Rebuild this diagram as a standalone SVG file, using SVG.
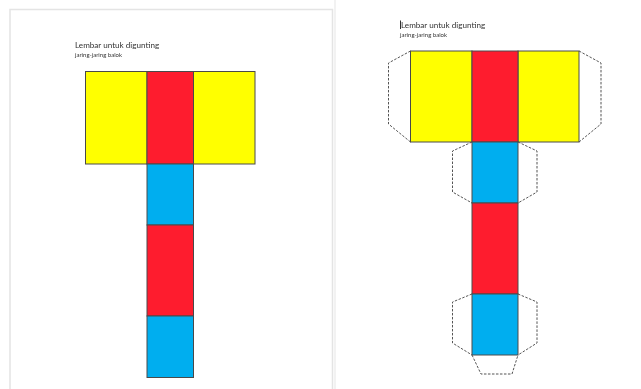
<svg xmlns="http://www.w3.org/2000/svg" width="641" height="389" viewBox="0 0 641 389">
<style>
.y{fill:#ffff00}.r{fill:#fe1b2e}.b{fill:#00aeef}
.f{stroke:#4a4a4a;stroke-width:1}
.d{fill:none;stroke:#555;stroke-width:1;stroke-dasharray:2.500 1.500}
.t{font-family:Lato,"Liberation Sans",sans-serif;fill:#333}
.h{font-size:8.1px}.s{font-size:6px}
.page{fill:none;stroke:#e4e4e4;stroke-width:1.5}
</style>
<defs><filter id="soft" x="-5%" y="-5%" width="110%" height="110%"><feGaussianBlur stdDeviation="0.4"/></filter></defs>
<rect width="641" height="389" fill="#fff"/>
<g filter="url(#soft)">
<g id="page-left">
<path class="page" d="M10 389V9.500H332.500V389"/>
<path d="M335 0V389" stroke="#eeeeee" stroke-width="1.500"/>
</g>
<g id="title-left">
<text class="t h" x="75" y="48">Lembar untuk digunting</text>
<text class="t s" x="75" y="57">jaring-jaring balok</text>
</g>
<g id="net-left">
<rect class="y f" x="85.500" y="71.500" width="61.500" height="92.500"/>
<rect class="y f" x="193.500" y="71.500" width="61.500" height="92.500"/>
<rect class="r f" x="147" y="71.500" width="46.500" height="92.500"/>
<rect class="b f" x="147" y="164" width="46.500" height="61"/>
<rect class="r f" x="147" y="225" width="46.500" height="91"/>
<rect class="b f" x="147" y="316" width="46.500" height="61.500"/>
</g>
<g id="title-right">
<path d="M400.500 20.500V29" stroke="#333" stroke-width="1"/>
<text class="t h" x="401" y="27.500">Lembar untuk digunting</text>
<text class="t s" x="400" y="37">jaring-jaring balok</text>
</g>
<g id="net-right">
<rect class="y f" x="410.500" y="51" width="61.500" height="91"/>
<rect class="y f" x="518" y="51" width="61" height="91"/>
<rect class="r f" x="472" y="51" width="46" height="91"/>
<rect class="b f" x="472" y="142" width="46" height="61"/>
<rect class="r f" x="472" y="203" width="46" height="91"/>
<rect class="b f" x="472" y="294" width="46" height="61"/>
</g>
<g id="connectors">
<path class="d" d="M410.500 51L388.500 63V124L410.500 142"/>
<path class="d" d="M579 51L601 63V124L579 142"/>
<path class="d" d="M472 142L452.500 151V192L472 203"/>
<path class="d" d="M518 142L537 151V192L518 203"/>
<path class="d" d="M472 294L452.500 302V343L472 355"/>
<path class="d" d="M518 294L537 302V343L518 355"/>
<path class="d" d="M472 355L481 374H512L518 355"/>
</g>
</g>
</svg>
